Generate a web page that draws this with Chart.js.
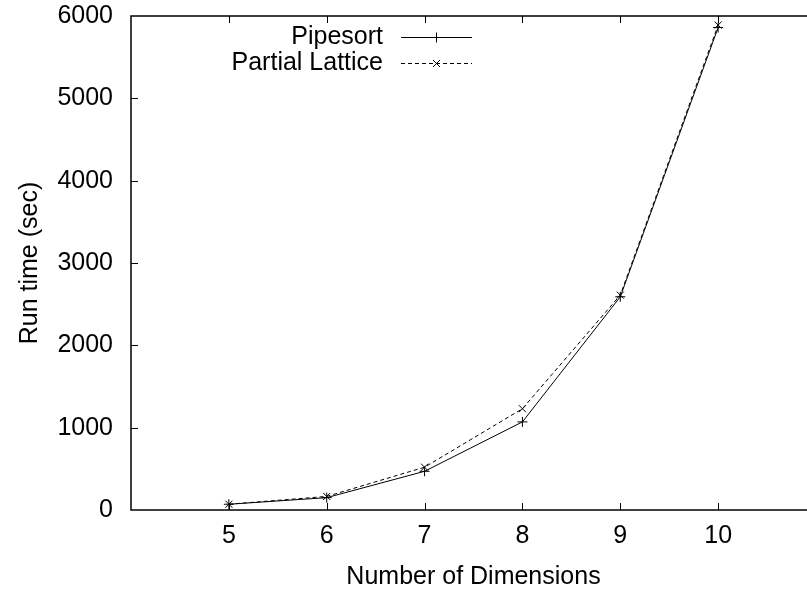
<!DOCTYPE html>
<html>
<head>
<meta charset="utf-8">
<script src="https://cdn.jsdelivr.net/npm/chart.js@4/dist/chart.umd.min.js"></script>
<style>
    html, body { margin: 0; padding: 0; background: #fff; overflow: hidden; }
    #wrap { width: 830px; height: 592px; }
</style>
</head>
<body>
<div id="wrap"><canvas id="runtime"></canvas></div>
<script>
"use strict";

// dimensions on the x axis
const dimensions = [5, 6, 7, 8, 9, 10];

// run time in seconds for each algorithm
const pipesortTimes = [70, 150, 470, 1070, 2590, 5860];
const latticeTimes  = [70, 165, 520, 1230, 2610, 5890];

const seriesNames = ['Pipesort', 'Partial Lattice'];

// axis ranges and tick steps
const xRange = [4, 11];
const yRange = [0, 6000];
const yStep  = 1000;

const fontFamily = "'Liberation Sans', Arial, Helvetica, sans-serif";
const fontSize   = 25;

/**----------------------------------------------------------------------
 * [turn the x / y arrays into point objects for a linear x scale]
 *--------------------------------------------------------------*/
function toPoints(xs, ys) {
    return xs.map(function(x, i) { return {x: x, y: ys[i]}; });
}

/**----------------------------------------------------------------------
 * [fixed axis box, no extra room for overhanging labels]
 *--------------------------------------------------------------*/
function fixBox(size) {
    return function(scale) {
        if (scale.isHorizontal()) {
            scale.height = size;
        } else {
            scale.width = size;
        }
        scale.paddingTop = 0;
        scale.paddingBottom = 0;
        scale.paddingLeft = 0;
        scale.paddingRight = 0;
    };
}

/**----------------------------------------------------------------------
 * [frame with inward ticks, gnuplot style]
 *--------------------------------------------------------------*/
const framePlugin = {
    id: 'frame',
    afterDatasetsDraw(chart) {
        const ctx = chart.ctx;
        const area = chart.chartArea;
        const xs = chart.scales.x;
        const ys = chart.scales.y;
        const tick = 7;

        ctx.save();
        ctx.strokeStyle = '#000';
        ctx.lineWidth = 1.5;
        ctx.strokeRect(area.left, area.top, area.right - area.left, area.bottom - area.top);

        ctx.lineWidth = 1;
        ctx.beginPath();
        for (let v = xRange[0] + 1; v < xRange[1]; v++) {
            const px = Math.round(xs.getPixelForValue(v)) + 0.5;
            ctx.moveTo(px, area.bottom);
            ctx.lineTo(px, area.bottom - tick);
            ctx.moveTo(px, area.top);
            ctx.lineTo(px, area.top + tick);
        }
        for (let v = yRange[0] + yStep; v < yRange[1]; v += yStep) {
            const py = Math.round(ys.getPixelForValue(v)) + 0.5;
            ctx.moveTo(area.left, py);
            ctx.lineTo(area.left + tick, py);
            ctx.moveTo(area.right, py);
            ctx.lineTo(area.right - tick, py);
        }
        ctx.stroke();
        ctx.restore();
    }
};

/**----------------------------------------------------------------------
 * [legend: text on the left, line sample with marker on the right]
 *--------------------------------------------------------------*/
const keyPlugin = {
    id: 'key',
    afterDraw(chart) {
        const ctx = chart.ctx;
        const textRight = 383;
        const lineFrom = 401;
        const lineTo = 472;
        const rowY = [37, 63];

        ctx.save();
        ctx.font = fontSize + 'px ' + fontFamily;
        ctx.textAlign = 'right';
        ctx.textBaseline = 'middle';
        ctx.fillStyle = '#000';

        chart.data.datasets.forEach(function(ds, i) {
            const y = rowY[i];
            ctx.fillText(ds.label, textRight, y);

            ctx.strokeStyle = ds.borderColor;
            ctx.lineWidth = ds.borderWidth;
            ctx.setLineDash(ds.borderDash || []);
            ctx.beginPath();
            ctx.moveTo(lineFrom, y + 0.5);
            ctx.lineTo(lineTo, y + 0.5);
            ctx.stroke();
            ctx.setLineDash([]);

            Chart.helpers.drawPoint(ctx, {
                pointStyle: ds.pointStyle,
                radius: ds.pointRadius,
                rotation: 0,
                borderWidth: ds.pointBorderWidth
            }, (lineFrom + lineTo) / 2, y + 0.5);
        });
        ctx.restore();
    }
};

new Chart(document.getElementById('runtime').getContext('2d'), {
    type: 'line',
    data: {
        datasets: [
            {
                label: seriesNames[0],
                data: toPoints(dimensions, pipesortTimes),
                borderColor: '#000',
                borderWidth: 1,
                pointStyle: 'cross',
                pointRadius: 5,
                pointBorderWidth: 1,
                pointBorderColor: '#000',
                tension: 0
            },
            {
                label: seriesNames[1],
                data: toPoints(dimensions, latticeTimes),
                borderColor: '#000',
                borderWidth: 1,
                borderDash: [4, 3],
                pointStyle: 'crossRot',
                pointRadius: 5,
                pointBorderWidth: 1,
                pointBorderColor: '#000',
                tension: 0
            }
        ]
    },
    options: {
        responsive: true,
        maintainAspectRatio: false,
        animation: false,
        layout: {
            padding: { left: 0, right: 14, top: 16, bottom: 0 }
        },
        plugins: {
            legend: { display: false },
            tooltip: { enabled: false }
        },
        scales: {
            x: {
                type: 'linear',
                min: xRange[0],
                max: xRange[1],
                afterFit: fixBox(82),
                grid: { display: false, drawTicks: false },
                border: { display: false },
                ticks: {
                    stepSize: 1,
                    padding: 11,
                    color: '#000',
                    font: { family: fontFamily, size: fontSize },
                    maxRotation: 0,
                    callback: function(v) {
                        return (v > xRange[0] && v < xRange[1]) ? String(v) : '';
                    }
                },
                title: {
                    display: true,
                    text: 'Number of Dimensions',
                    color: '#000',
                    font: { family: fontFamily, size: fontSize },
                    padding: { top: 0, bottom: 0 }
                }
            },
            y: {
                min: yRange[0],
                max: yRange[1],
                afterFit: fixBox(131),
                grid: { display: false, drawTicks: false },
                border: { display: false },
                ticks: {
                    stepSize: yStep,
                    padding: 18,
                    color: '#000',
                    font: { family: fontFamily, size: fontSize },
                    callback: function(v) { return String(v); }
                },
                title: {
                    display: true,
                    text: 'Run time (sec)',
                    color: '#000',
                    font: { family: fontFamily, size: fontSize },
                    padding: { top: 15, bottom: 0 }
                }
            }
        }
    },
    plugins: [framePlugin, keyPlugin]
});
</script>
</body>
</html>
